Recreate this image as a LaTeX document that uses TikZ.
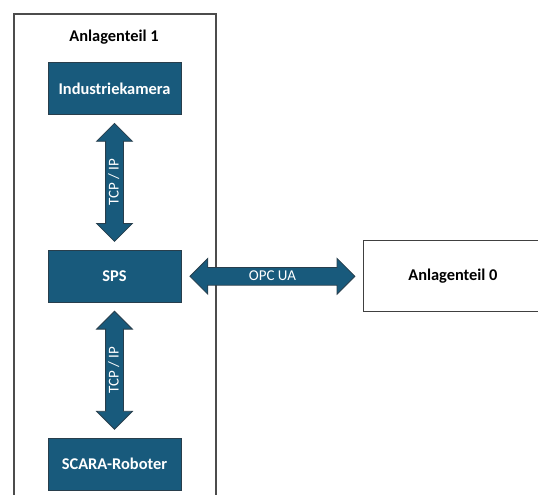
\documentclass[tikz,border=0pt]{standalone}
\usepackage{fontspec}
\setmainfont{Carlito}
\usetikzlibrary{positioning,shapes.arrows,calc}

\definecolor{plcblue}{RGB}{24,90,124}
\definecolor{plcedge}{RGB}{40,62,76}

\begin{document}
\begin{tikzpicture}[x=1pt,y=1pt,node distance=135pt and 182pt]
    \tikzstyle{device}=[rectangle,draw=plcedge,line width=0.8pt,fill=plcblue,text=white,
        minimum width=133pt,minimum height=52pt,font=\fontsize{16.4}{19}\selectfont\bfseries]
    \tikzstyle{plant}=[rectangle,draw=black!75,line width=1pt,fill=white,
        minimum width=178pt,minimum height=71pt,font=\fontsize{16.4}{19}\selectfont\bfseries]
    \tikzstyle{link}=[double arrow,draw=plcedge,line width=0.8pt,fill=plcblue,text=white,
        double arrow head extend=9pt,inner ysep=3.5pt,inner xsep=0pt,
        text height=9pt,text depth=1pt,font=\fontsize{15}{18}\selectfont]

    \useasboundingbox (0,0) rectangle (538,-495);
    \clip (0,0) rectangle (538,-495);

    % Anlagenteil 1 frame
    \node[draw=black!70,line width=1.1pt,minimum width=202pt,minimum height=500pt] (frame) at (115,-264) {};
    \node[font=\fontsize{16.4}{19}\selectfont\bfseries] (title) at (114,-37) {Anlagenteil 1};

    \node[device] (kam) at (114.5,-88.5) {Industriekamera};
    \node[device] (sps) [below=of kam] {SPS};
    \node[device] (scara) [below=of sps] {SCARA-Roboter};
    \node[plant] (anl0) [right=of sps] {Anlagenteil 0};

    % links
    \node[link,rotate=90,minimum height=118pt] (l1) at ($(kam.south)!0.5!(sps.north)$) {TCP / IP};
    \node[link,rotate=90,minimum height=118pt] (l2) at ($(sps.south)!0.5!(scara.north)$) {TCP / IP};
    \node[link,minimum height=165pt] (l3) at ($(sps.east)!0.5!(anl0.west)$) {OPC UA};
\end{tikzpicture}
\end{document}
